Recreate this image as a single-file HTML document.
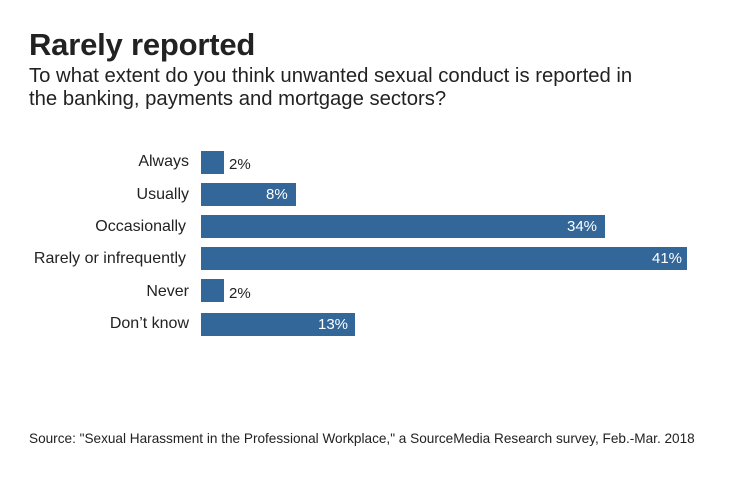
<!DOCTYPE html>
<html><head><style>
body{margin:0;background:#fff;width:740px;height:483px;position:relative;font-family:"Liberation Sans",sans-serif;color:#222;overflow:hidden}
.t{position:absolute;left:29px;top:27px;font-size:31px;font-weight:bold;letter-spacing:-0.2px}
.s{position:absolute;left:29px;top:65px;font-size:20.3px;line-height:23px;color:#222}
.l{position:absolute;right:551px;font-size:16px;text-align:right;white-space:nowrap}
.b{position:absolute;left:201px;height:23px;background:#336699}
.v{position:absolute;font-size:15px}
.w{color:#fff}
.src{position:absolute;left:29px;top:431px;font-size:13.6px}
</style></head><body>
<div class="t">Rarely reported</div>
<div class="s">To what extent do you think unwanted sexual conduct is reported in<br>the banking, payments and mortgage sectors?</div>

<div class="l" style="top:153px">Always</div>
<div class="b" style="top:151px;width:23px"></div>
<div class="v" style="left:229px;top:156px">2%</div>

<div class="l" style="top:186px">Usually</div>
<div class="b" style="top:183px;width:95px"></div>
<div class="v w" style="left:266px;top:186px">8%</div>

<div class="l" style="top:218px;right:554px">Occasionally</div>
<div class="b" style="top:215px;width:404px"></div>
<div class="v w" style="left:567px;top:218px">34%</div>

<div class="l" style="top:250px;right:554px">Rarely or infrequently</div>
<div class="b" style="top:247px;width:486px"></div>
<div class="v w" style="left:652px;top:250px">41%</div>

<div class="l" style="top:283px">Never</div>
<div class="b" style="top:279px;width:23px"></div>
<div class="v" style="left:229px;top:285px">2%</div>

<div class="l" style="top:315px">Don’t know</div>
<div class="b" style="top:313px;width:154px"></div>
<div class="v w" style="left:318px;top:316px">13%</div>

<div class="src">Source: "Sexual Harassment in the Professional Workplace," a SourceMedia Research survey, Feb.-Mar. 2018</div>
</body></html>
